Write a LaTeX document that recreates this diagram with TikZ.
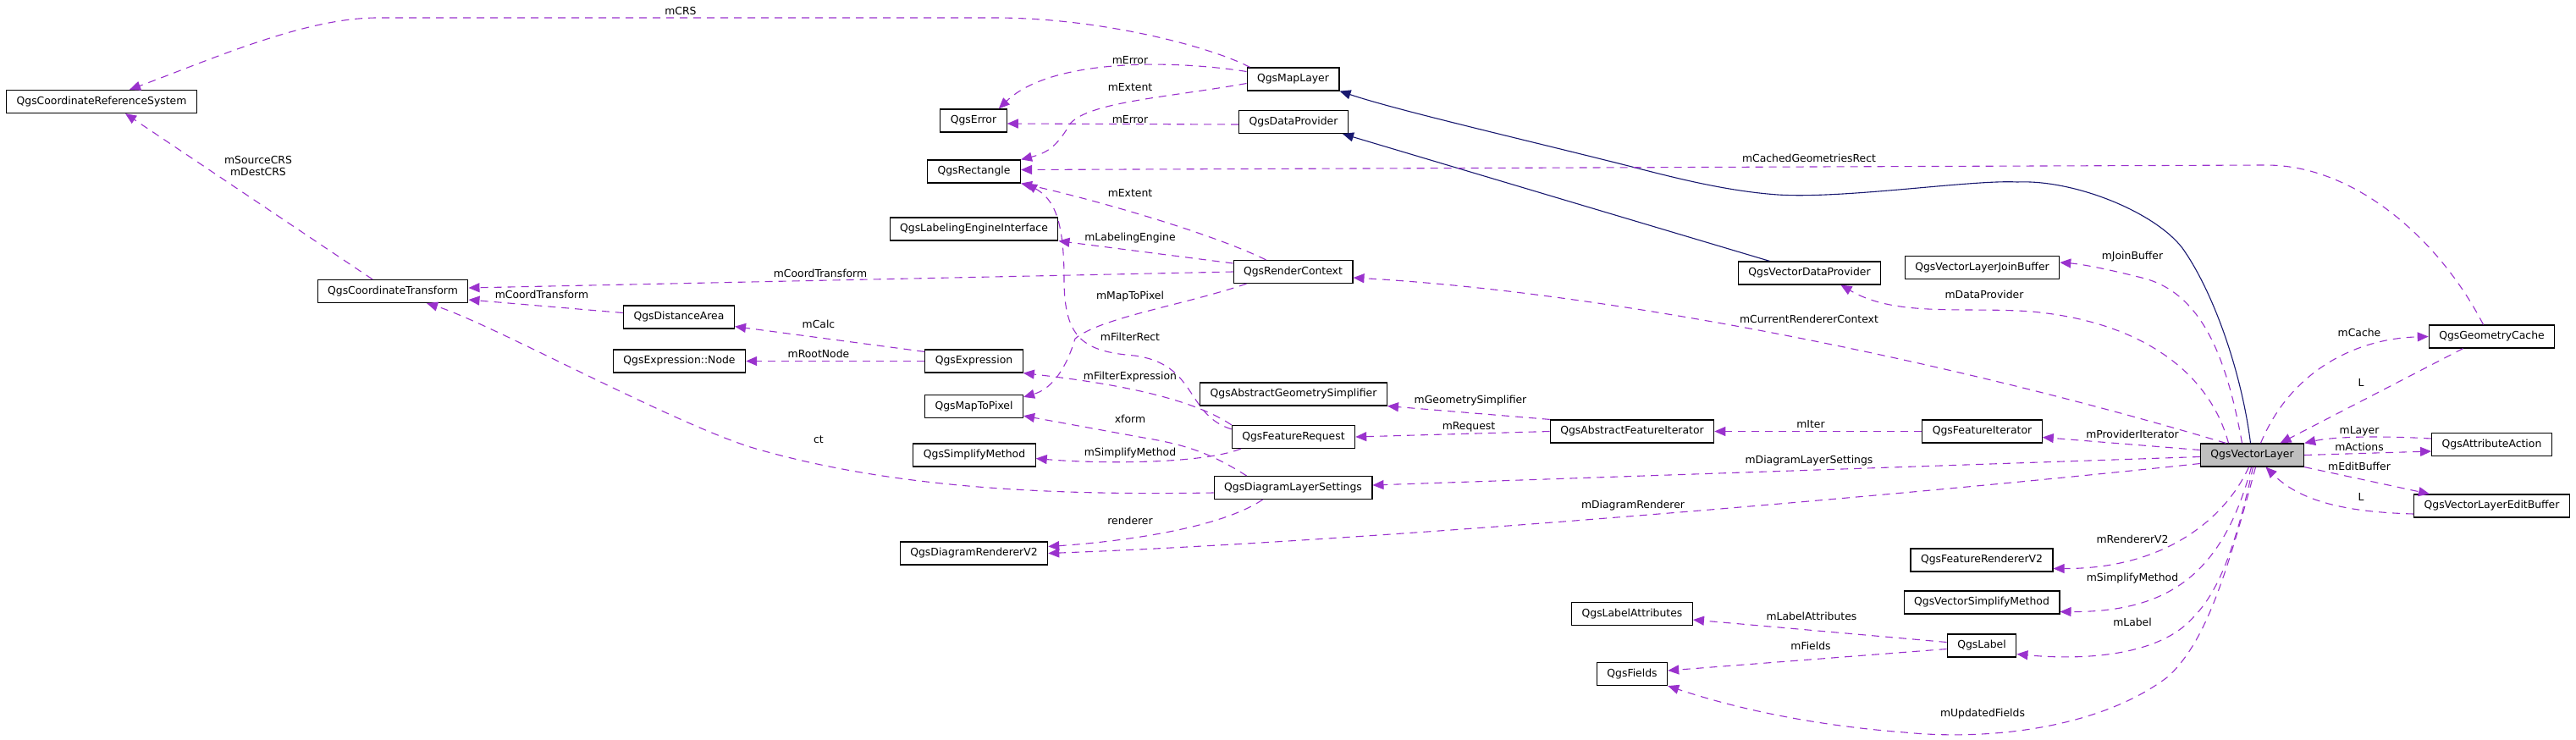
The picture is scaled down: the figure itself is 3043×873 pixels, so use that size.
\documentclass[tikz,border=0pt]{standalone}
\usepackage{fontspec}
\setmainfont{DejaVu Sans}
\usetikzlibrary{arrows.meta}
\definecolor{dxpurple}{HTML}{9A32CD}
\definecolor{dxblue}{HTML}{191970}

\begin{document}
\begin{tikzpicture}[x=1pt,y=-1pt,
  cls/.style={draw=black,line width=1.2pt,fill=white,minimum height=27pt,inner xsep=12pt,inner ysep=0pt,font=\fontsize{12.4}{14}\selectfont},
  cur/.style={cls,fill=black!25},
  use/.style={draw=dxpurple,line width=1.1pt,dash pattern=on 9pt off 7pt,-{Triangle[length=13pt,width=11pt]}},
  inh/.style={draw=dxblue,line width=1.1pt,-{Triangle[length=13pt,width=11pt]}},
  lbl/.style={inner sep=0pt,font=\fontsize{12.4}{14}\selectfont}]
\useasboundingbox (0,0) rectangle (3043,873);
% classes
\node[cls] (crs) at (120,120) {QgsCoordinateReferenceSystem};
\node[cls] (ct) at (464,344) {QgsCoordinateTransform};
\node[cls] (da) at (802,374.5) {QgsDistanceArea};
\node[cls] (exnode) at (802.5,426.5) {QgsExpression::Node};
\node[cls] (maplayer) at (1527.5,93.5) {QgsMapLayer};
\node[cls] (err) at (1150,142.5) {QgsError};
\node[cls] (dataprov) at (1528,144) {QgsDataProvider};
\node[cls] (rect) at (1150.5,202.5) {QgsRectangle};
\node[cls] (labeng) at (1150.5,270.5) {QgsLabelingEngineInterface};
\node[cls] (rctx) at (1527.5,321) {QgsRenderContext};
\node[cls] (vdp) at (2137.5,322.5) {QgsVectorDataProvider};
\node[cls] (expr) at (1150.5,426.5) {QgsExpression};
\node[cls] (m2p) at (1150.5,480) {QgsMapToPixel};
\node[cls] (geomsimp) at (1528,465.5) {QgsAbstractGeometrySimplifier};
\node[cls] (freq) at (1528,516) {QgsFeatureRequest};
\node[cls] (absit) at (1928,509.5) {QgsAbstractFeatureIterator};
\node[cls] (simpm) at (1151,537.5) {QgsSimplifyMethod};
\node[cls] (dls) at (1527.5,576) {QgsDiagramLayerSettings};
\node[cls] (drend) at (1150.5,653.5) {QgsDiagramRendererV2};
\node[cls] (lattr) at (1928,725) {QgsLabelAttributes};
\node[cls] (fields) at (1928,796) {QgsFields};
\node[cls] (joinbuf) at (2341.5,316) {QgsVectorLayerJoinBuffer};
\node[cls] (gcache) at (2943.5,397.5) {QgsGeometryCache};
\node[cls] (fit) at (2341.5,509.5) {QgsFeatureIterator};
\node[cur] (vl) at (2660.5,537.5) {QgsVectorLayer};
\node[cls] (action) at (2943.5,525) {QgsAttributeAction};
\node[cls] (editbuf) at (2943.5,597.5) {QgsVectorLayerEditBuffer};
\node[cls] (frend) at (2341,661.5) {QgsFeatureRendererV2};
\node[cls] (vsimp) at (2341,711.5) {QgsVectorSimplifyMethod};
\node[cls] (label) at (2341,762.5) {QgsLabel};
% inheritance
\draw[inh] ([xshift=-47]vdp.north) -- ([xshift=-7]dataprov.south east);
\draw[inh] ([xshift=-2]vl.north) .. controls (2648,440) and (2615,345) .. (2578,293) .. controls (2545,250) and (2450,212) .. (2383,215) .. controls (2330,212) and (2180,235) .. (2100,230) .. controls (2030,225) and (1960,205) .. (1912,193) .. controls (1780,160) and (1650,130) .. (maplayer.south east);
% members
\draw[use] ([xshift=4]maplayer.north west) .. controls (1430,55) and (1300,21) .. (1175,21) -- (446,21) .. controls (360,21) and (250,70) .. ([xshift=33]crs.north);
\node[lbl] (lcrs) at (804,13) {mCRS};
\draw[use] ([yshift=9]maplayer.west) .. controls (1380,70) and (1240,70) .. ([xshift=-10]err.north east);
\node[lbl] (lerr1) at (1335,71) {mError};
\draw[use] ([yshift=-5]maplayer.west) .. controls (1380,115) and (1290,120) .. (1265,145) .. controls (1250,170) and (1240,180) .. (rect.north east);
\node[lbl] (lext1) at (1335,103) {mExtent};
\draw[use] ([yshift=-3]dataprov.west) -- ([yshift=-3.5]err.east);
\node[lbl] (lerr2) at (1335,141) {mError};
\draw[use] ([xshift=-10]gcache.north) .. controls (2880,280) and (2780,195) .. (2677,195) -- ([yshift=2]rect.east);
\node[lbl] (lcgr) at (2137,187) {mCachedGeometriesRect};
\draw[use] ([xshift=-32]rctx.north) .. controls (1430,275) and (1290,235) .. (rect.south east);
\node[lbl] (lext2) at (1335,228) {mExtent};
\draw[use] ([yshift=10]rctx.west) -- (labeng.south east);
\node[lbl] (lleng) at (1335,281) {mLabelingEngine};
\draw[use] (rctx.west) -- ([yshift=4]ct.east);
\node[lbl] (lctr1) at (969,323) {mCoordTransform};
\draw[use] ([yshift=5]da.west) -- ([yshift=-10]ct.east);
\node[lbl] (lctr2) at (640,348) {mCoordTransform};
\draw[use] ([xshift=-24]ct.north) -- ([xshift=28]crs.south);
\node[lbl,align=center] (lsrc) at (305,196) {mSourceCRS\\mDestCRS};
\draw[use] ([yshift=-3]expr.north west) -- ([yshift=3]da.south east);
\node[lbl] (lcalc) at (967,383) {mCalc};
\draw[use] (expr.west) -- (exnode.east);
\node[lbl] (lroot) at (967,418) {mRootNode};
\draw[use] ([yshift=-6]dls.west) .. controls (1250,585) and (1060,578) .. (893,530) .. controls (800,503) and (580,382) .. ([xshift=40]ct.south);
\node[lbl] (lct) at (967,519) {ct};
\draw[use] ([xshift=-55]rctx.south) .. controls (1400,360) and (1300,375) .. (1270,400) .. controls (1258,440) and (1240,460) .. ([yshift=-3]m2p.north east);
\node[lbl] (lm2p) at (1335,350) {mMapToPixel};
\draw[use] ([yshift=-5]freq.north west) .. controls (1400,490) and (1415,430) .. (1340,420) .. controls (1280,415) and (1257,400) .. (1257,330) .. controls (1257,260) and (1245,235) .. ([xshift=6]rect.south east);
\node[lbl] (lfrect) at (1335,398) {mFilterRect};
\draw[use] (freq.north west) .. controls (1400,465) and (1290,450) .. (expr.south east);
\node[lbl] (lfexpr) at (1335,445) {mFilterExpression};
\draw[use] ([xshift=11]freq.south west) .. controls (1420,548) and (1300,548) .. ([yshift=-4]simpm.east);
\node[lbl] (lsimp1) at (1335,535) {mSimplifyMethod};
\draw[use] ([xshift=-55]dls.north) .. controls (1430,535) and (1400,525) .. (1351,517) -- ([yshift=3]m2p.south east);
\node[lbl] (lxform) at (1335,495) {xform};
\draw[use] ([xshift=-36]dls.south) .. controls (1440,625) and (1320,640) .. ([yshift=8]drend.east);
\node[lbl] (lrend) at (1335,615) {renderer};
\draw[use] (absit.north west) -- (geomsimp.south east);
\node[lbl] (lgsimp) at (1737,473) {mGeometrySimplifier};
\draw[use] (absit.west) -- (freq.east);
\node[lbl] (lreq) at (1735,504) {mRequest};
\draw[use] (fit.west) -- (absit.east);
\node[lbl] (liter) at (2139,501) {mIter};
\draw[use] ([yshift=6]vl.west) -- ([yshift=-7]fit.east);
\node[lbl] (lpit) at (2519,513) {mProviderIterator};
\draw[use] ([yshift=-2]vl.west) -- ([yshift=3]dls.east);
\node[lbl] (ldls) at (2137,544) {mDiagramLayerSettings};
\draw[use] ([yshift=-10]vl.west) .. controls (2200,590) and (1600,640) .. (drend.east);
\node[lbl] (ldrend) at (1929,597) {mDiagramRenderer};
\draw[use] ([xshift=-31]vl.north) .. controls (2300,425) and (1900,345) .. ([yshift=-7]rctx.east);
\node[lbl] (lcrc) at (2137,377) {mCurrentRendererContext};
\draw[use] ([xshift=-28]vl.north) .. controls (2610,440) and (2530,380) .. (2400,368) .. controls (2320,362) and (2240,375) .. ([xshift=37]vdp.south);
\node[lbl] (ldp) at (2344,348) {mDataProvider};
\draw[use] ([xshift=-12]vl.north) .. controls (2630,420) and (2600,345) .. (2530,328) .. controls (2490,318) and (2460,312) .. ([yshift=6]joinbuf.east);
\node[lbl] (ljb) at (2519,303) {mJoinBuffer};
\draw[use] ([xshift=10]vl.north) .. controls (2705,440) and (2780,400) .. (gcache.west);
\node[lbl] (lcache) at (2787,393) {mCache};
\draw[use] ([xshift=-34]gcache.south) -- ([xshift=33]vl.north);
\node[lbl] (ll1) at (2789,452) {L};
\draw[use] ([yshift=7]action.west) .. controls (2820,515) and (2760,515) .. (vl.north east);
\node[lbl] (llayer) at (2787,509) {mLayer};
\draw[use] (vl.east) -- ([yshift=-8]action.west);
\node[lbl] (lact) at (2787,528) {mActions};
\draw[use] (vl.south east) -- ([xshift=19]editbuf.north west);
\node[lbl] (leb) at (2787,551) {mEditBuffer};
\draw[use] ([yshift=-9.5]editbuf.west) .. controls (2780,605) and (2720,595) .. ([xshift=16]vl.south);
\node[lbl] (ll2) at (2789,587) {L};
\draw[use] ([xshift=-4]vl.south) .. controls (2630,610) and (2560,672) .. ([yshift=-10]frend.east);
\node[lbl] (lrv2) at (2519,637) {mRendererV2};
\draw[use] ([xshift=-1]vl.south) .. controls (2625,680) and (2560,723) .. ([yshift=-11]vsimp.east);
\node[lbl] (lsimp2) at (2519,683) {mSimplifyMethod};
\draw[use] ([xshift=1]vl.south) .. controls (2640,650) and (2620,700) .. (2590,730) .. controls (2550,775) and (2460,780) .. ([yshift=-10]label.east);
\node[lbl] (llab) at (2519,735) {mLabel};
\draw[use] ([xshift=4]vl.south) .. controls (2630,680) and (2605,760) .. (2560,800) .. controls (2480,860) and (2350,875) .. (2250,865) .. controls (2120,855) and (2030,830) .. (fields.south east);
\node[lbl] (lupd) at (2342,843) {mUpdatedFields};
\draw[use] ([yshift=4]label.west) -- ([yshift=-7]lattr.east);
\node[lbl] (llattr) at (2140,728) {mLabelAttributes};
\draw[use] ([yshift=-4]label.west) -- ([yshift=4]fields.east);
\node[lbl] (lfields) at (2139,763) {mFields};
\end{tikzpicture}
\end{document}
